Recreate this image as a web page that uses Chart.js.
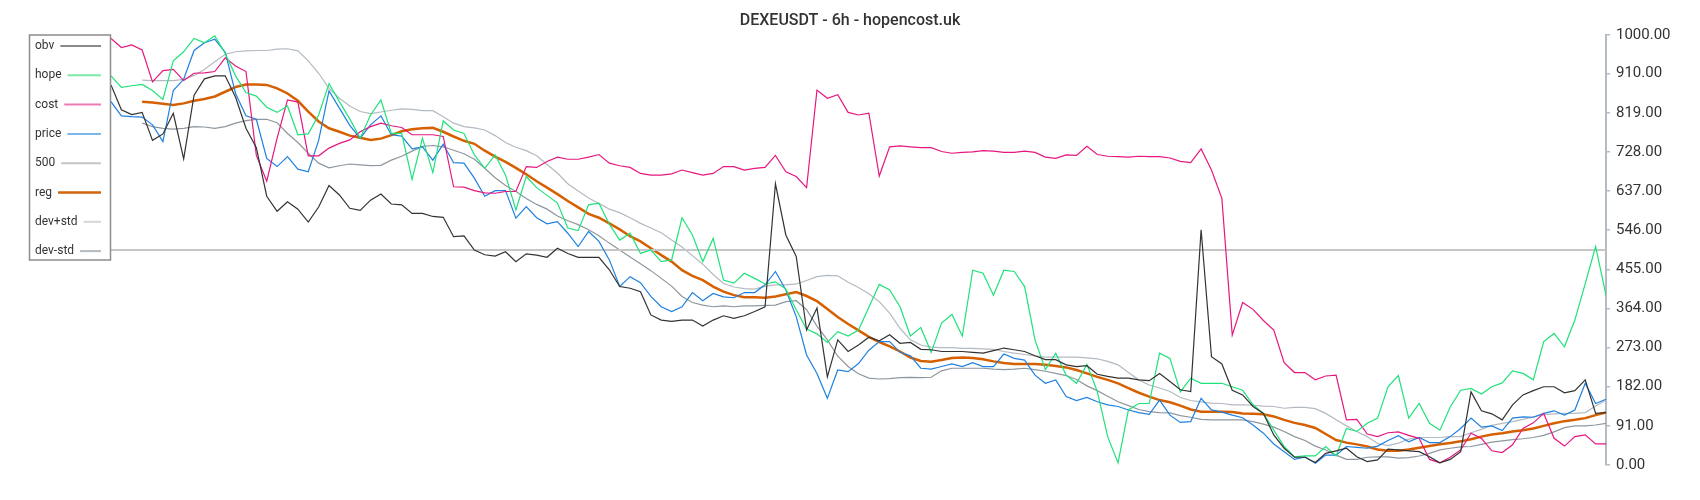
<!DOCTYPE html>
<html><head><meta charset="utf-8">
<script src="https://cdn.jsdelivr.net/npm/chart.js@4.4.0/dist/chart.umd.min.js"></script>
<style>html,body{margin:0;padding:0;background:#fff;}#wrap{width:1700px;height:500px;}</style>
</head><body><div id="wrap"><canvas id="c" width="1700" height="500"></canvas></div>
<script>
const titleText = 'DEXEUSDT - 6h - hopencost.uk';
const seriesNames = ['obv', 'hope', 'cost', 'price', '500', 'reg', 'dev+std', 'dev-std'];
const tickValues = [0, 91, 182, 273, 364, 455, 546, 637, 728, 819, 910, 1000];
const lastIndex = 144;
const bandStart = 3;

const obv = [
 884, 826, 815, 820, 755, 770, 818, 712, 860, 898,
 905, 905, 855, 783, 738, 625, 590, 612, 595, 565,
 600, 650, 628, 597, 592, 616, 630, 607, 605, 585,
 585, 578, 576, 531, 533, 500, 489, 486, 496, 473,
 491, 488, 483, 504, 492, 483, 483, 483, 454, 415,
 411, 403, 349, 337, 334, 337, 337, 323, 337, 347,
 341, 347, 357, 368, 654, 535, 485, 314, 365, 205,
 291, 264, 279, 297, 289, 303, 283, 285, 269, 268,
 264, 264, 264, 262, 260, 266, 272, 268, 264, 254,
 245, 245, 233, 229, 231, 211, 206, 202, 202, 198,
 196, 213, 194, 175, 171, 547, 252, 235, 174, 163,
 136, 120, 70, 39, 18, 18, 6, 27, 33, 39,
 19, 8, 12, 37, 35, 33, 31, 19, 5, 13,
 31, 170, 126, 119, 105, 140, 163, 173, 182, 182,
 168, 173, 198, 120, 122];

const hope = [
 905, 878, 882, 885, 871, 850, 940, 961, 992, 982,
 998, 957, 905, 866, 858, 832, 820, 835, 768, 770,
 814, 887, 845, 805, 760, 814, 849, 771, 771, 664,
 760, 680, 800, 779, 771, 721, 690, 721, 674, 593,
 671, 645, 627, 609, 551, 545, 605, 609, 560, 523,
 539, 492, 500, 473, 477, 575, 535, 473, 527, 430,
 423, 446, 434, 421, 426, 409, 361, 316, 305, 285,
 310, 300, 314, 367, 420, 407, 368, 300, 320, 262,
 330, 350, 300, 453, 446, 395, 453, 450, 415, 291,
 222, 260, 209, 190, 234, 171, 66, 5, 128, 143,
 143, 260, 248, 170, 202, 190, 190, 190, 182, 174,
 140, 120, 81, 43, 19, 21, 21, 43, 21, 85,
 78, 97, 109, 182, 208, 109, 143, 97, 81, 135,
 174, 178, 165, 182, 191, 219, 213, 198, 287, 306,
 275, 337, 422, 508, 395];

const cost = [
 992, 971, 977, 965, 891, 917, 920, 894, 911, 912,
 915, 947, 928, 915, 720, 660, 760, 849, 844, 719,
 719, 737, 748, 756, 775, 787, 795, 789, 785, 768,
 768, 768, 764, 647, 646, 638, 633, 632, 636, 636,
 694, 692, 706, 716, 711, 711, 716, 722, 702, 696,
 692, 678, 674, 674, 677, 686, 680, 674, 678, 694,
 694, 686, 690, 692, 720, 682, 671, 645, 872, 853,
 861, 820, 814, 818, 672, 740, 742, 740, 738, 738,
 729, 725, 727, 728, 731, 730, 727, 727, 730, 727,
 716, 713, 721, 720, 741, 722, 718, 717, 716, 718,
 717, 717, 714, 706, 703, 735, 686, 620, 302, 378,
 362, 336, 314, 238, 215, 215, 198, 207, 209, 105,
 106, 72, 66, 75, 77, 69, 62, 13, 5, 18,
 35, 74, 62, 33, 29, 47, 85, 98, 120, 62,
 44, 66, 70, 49, 49];

const price = [
 845, 812, 810, 809, 791, 752, 871, 897, 964, 982,
 990, 960, 864, 812, 804, 713, 694, 717, 688, 682,
 755, 870, 830, 790, 760, 791, 812, 768, 765, 735,
 740, 709, 746, 703, 702, 667, 625, 638, 638, 574,
 601, 575, 561, 566, 539, 508, 543, 520, 477, 415,
 438, 424, 392, 368, 357, 368, 401, 382, 399, 391,
 389, 401, 401, 419, 450, 407, 345, 256, 213, 155,
 221, 217, 236, 267, 287, 287, 262, 254, 225, 223,
 229, 235, 229, 238, 229, 229, 258, 248, 244, 209,
 190, 198, 159, 150, 157, 147, 140, 136, 128, 122,
 118, 151, 116, 99, 101, 155, 128, 123, 116, 110,
 93, 74, 49, 31, 13, 19, 4, 23, 23, 43,
 41, 39, 44, 57, 68, 54, 64, 52, 52, 66,
 85, 109, 88, 91, 80, 109, 112, 111, 120, 126,
 116, 128, 190, 143, 153];

const level500X = [0, 144];
const level500 = [500, 500];

const reg = [
 845, 843, 840, 837, 841, 847, 851, 857, 868, 879, 885, 885, 884, 876, 864, 847, 822, 799,
 783, 775, 766, 761, 756, 759, 767, 776, 781, 783, 784, 775, 764, 754, 747, 731, 717, 705, 691, 676, 660,
 645, 630, 614, 599, 584, 575, 562, 548, 532, 520, 504, 488, 473, 453, 440, 430, 415, 403, 395, 390, 390,
 389, 392, 397, 402, 393, 381, 363, 344, 328, 313, 298, 286, 276, 264, 250, 242, 240, 244, 249, 250,
 249, 246, 241, 237, 235, 235, 235, 233, 230, 227, 221, 213, 205, 198, 190, 179, 168, 159, 151, 146, 138,
 129, 124, 124, 124, 123, 120, 119, 118, 113, 105, 98, 93, 86, 72, 58, 52, 48, 43, 36, 33, 33,
 36, 40, 44, 48, 51, 55, 60, 66, 71, 74, 78, 81, 85, 91, 97, 102, 105, 109, 116, 122];

const devPlus = [
 895, 894, 894, 894, 897, 906, 920, 938, 955, 961, 963, 964, 964, 967, 968, 963, 940, 911,
 876, 853, 835, 822, 817, 821, 825, 828, 827, 824, 824, 810, 795, 787, 784, 779, 766, 750, 739, 731, 719,
 699, 679, 654, 637, 621, 608, 595, 587, 575, 562, 551, 540, 523, 507, 487, 467, 443, 422, 414, 410, 409,
 416, 419, 419, 421, 429, 438, 441, 440, 425, 413, 398, 380, 353, 318, 291, 279, 274, 273, 273, 271,
 271, 270, 269, 264, 260, 257, 254, 251, 251, 251, 251, 249, 247, 241, 233, 215, 198, 186, 179, 171, 157,
 150, 147, 144, 143, 140, 140, 139, 137, 136, 132, 134, 134, 131, 120, 105, 91, 78, 66, 50, 45, 51,
 60, 64, 64, 64, 66, 66, 75, 83, 92, 97, 101, 106, 112, 117, 119, 120, 120, 122, 137, 151];

const devMinus = [
 795, 787, 783, 781, 783, 787, 786, 783, 787, 795, 801, 804, 804, 796, 771, 750, 725, 702,
 691, 696, 700, 698, 696, 697, 709, 718, 730, 741, 743, 740, 732, 724, 711, 690, 668, 650, 636, 620, 606,
 595, 579, 568, 559, 547, 533, 516, 500, 484, 468, 452, 434, 416, 392, 378, 372, 368, 370, 368, 370, 370,
 371, 372, 380, 382, 361, 323, 291, 253, 229, 212, 202, 200, 201, 203, 204, 203, 204, 219, 225, 225,
 225, 225, 223, 222, 223, 225, 222, 218, 213, 208, 199, 184, 173, 160, 147, 138, 129, 124, 122, 121, 115,
 111, 106, 105, 105, 105, 105, 101, 95, 88, 78, 66, 57, 44, 35, 23, 13, 13, 18, 19, 19, 16,
 17, 21, 27, 35, 39, 42, 43, 48, 53, 56, 59, 61, 64, 69, 77, 87, 91, 91, 93, 97];

const lineColors = ['#333333', '#1fe27a', '#e6177f', '#1f80e0', '#c6c6c6', '#d66000', '#b3bac1', '#8e979f'];
const lineWidths = [1.2, 1.2, 1.2, 1.2, 2, 2.5, 1.2, 1.2];
const legendColors = ['#8a8a8a', '#7fe9a8', '#ee7ab4', '#7cb8ee', '#c6c6c6', '#d2650c', '#d3d7db', '#b3bbc2'];

const pts = (arr, start) => arr.map((v, i) => ({x: i + start, y: v}));
const seriesData = [
  pts(obv, 0), pts(hope, 0), pts(cost, 0), pts(price, 0),
  level500X.map((x, i) => ({x: x, y: level500[i]})),
  pts(reg, bandStart), pts(devPlus, bandStart), pts(devMinus, bandStart)
];

const overlay = {
  id: 'overlay',
  afterDraw(chart) {
    const ctx = chart.ctx;
    ctx.save();
    ctx.font = '500 16px Roboto';
    ctx.fillStyle = '#333';
    ctx.textAlign = 'center';
    ctx.textBaseline = 'middle';
    ctx.fillText(titleText, 850, 21);
    ctx.fillStyle = '#fff';
    ctx.fillRect(29.5, 35, 81, 225);
    ctx.strokeStyle = '#8c8c8c';
    ctx.lineWidth = 1.5;
    ctx.strokeRect(29.5, 35, 81, 225);
    ctx.font = '12px Roboto';
    ctx.textAlign = 'left';
    seriesNames.forEach((n, k) => {
      const y = 46 + k * 29.3;
      ctx.fillStyle = '#333';
      ctx.fillText(n, 35, y);
      const w = ctx.measureText(n).width;
      ctx.strokeStyle = legendColors[k];
      ctx.lineWidth = k === 5 ? 2.5 : 2;
      ctx.beginPath();
      ctx.moveTo(35 + w + 6, y);
      ctx.lineTo(101, y);
      ctx.stroke();
    });
    ctx.restore();
  }
};

new Chart(document.getElementById('c'), {
  type: 'line',
  data: {
    datasets: seriesNames.map((n, k) => ({
      label: n, data: seriesData[k], borderColor: lineColors[k], borderWidth: lineWidths[k],
      pointRadius: 0, fill: false, tension: 0
    }))
  },
  options: {
    responsive: false, animation: false, devicePixelRatio: 1,
    layout: {padding: {left: 111, top: 35, bottom: 35, right: 0}},
    plugins: {legend: {display: false}, title: {display: false}, tooltip: {enabled: false}},
    scales: {
      x: {type: 'linear', min: 0, max: lastIndex, display: false},
      y: {
        type: 'linear', position: 'right', min: 0, max: 1000,
        afterBuildTicks: s => { s.ticks = tickValues.map(v => ({value: v})); },
        afterFit: s => { s.width = 94; },
        grid: {drawOnChartArea: false, drawTicks: true, tickLength: 4, color: '#b4bcc3', lineWidth: 1.5},
        border: {display: true, color: '#b4bcc3', width: 2},
        ticks: {padding: 6, color: '#333', font: {family: 'Roboto', size: 15}, autoSkip: false,
                callback: v => Number(v).toFixed(2)}
      }
    }
  },
  plugins: [overlay]
});
</script></body></html>
